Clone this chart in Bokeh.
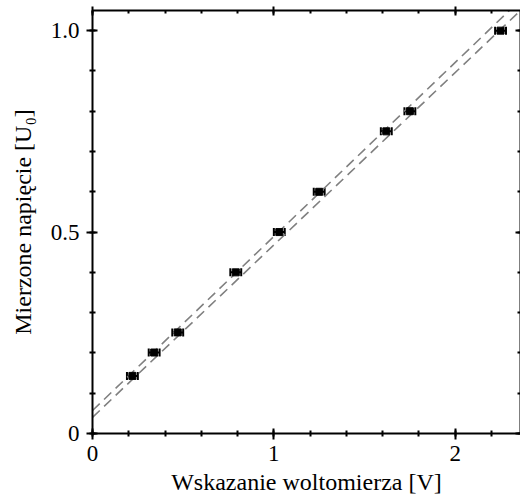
from bokeh.plotting import figure
from bokeh.models import (ColumnDataSource, FixedTicker, LinearAxis, Range1d, Whisker)
from bokeh.embed import file_html
from bokeh.resources import INLINE

# data
x_volt = [0.22, 0.34, 0.47, 0.79, 1.03, 1.25, 1.62, 1.75, 2.25]
y_u0 = [0.143, 0.201, 0.251, 0.400, 0.500, 0.600, 0.750, 0.800, 1.000]
x_err = [0.03, 0.03, 0.03, 0.03, 0.03, 0.03, 0.03, 0.03, 0.03]
fit_intercepts = [0.040, 0.057]
fit_slopes = [0.428, 0.432]
line_x = [0.0, 2.40]
x_ticks = [0, 1, 2]
y_ticks = [0, 0.5, 1.0]
y_tick_labels = {0: "0", 0.5: "0.5", 1: "1.0"}

FONT = "Liberation Serif"

p = figure(width=520, height=501, output_backend="svg", toolbar_location=None,
           x_range=Range1d(0, 2.36), y_range=Range1d(0, 1.05),
           min_border_left=92, min_border_bottom=68, min_border_top=10, min_border_right=0,
           x_axis_label="Wskazanie woltomierza [V]",
           y_axis_label="Mierzone napięcie [U₀]")
p.outline_line_color = None
p.grid.visible = False
p.background_fill_color = "white"
p.border_fill_color = "white"

# fit lines
for a, b in zip(fit_intercepts, fit_slopes):
    p.line(line_x, [a + b * xx for xx in line_x], line_color="#808080",
           line_width=1.6, line_dash="10 6")

src = ColumnDataSource(dict(x=x_volt, y=y_u0,
                            lo=[xv - e for xv, e in zip(x_volt, x_err)],
                            hi=[xv + e for xv, e in zip(x_volt, x_err)]))
w = Whisker(source=src, base="y", lower="lo", upper="hi", dimension="width",
            line_color="black", line_width=2)
w.upper_head.size = 8
w.lower_head.size = 8
w.upper_head.line_width = 2
w.lower_head.line_width = 2
p.add_layout(w)
p.scatter("x", "y", source=src, marker="square", size=7, fill_color="black",
          line_color="black")

xt = FixedTicker(ticks=x_ticks, minor_ticks=[i * 0.2 for i in range(13)])
yt = FixedTicker(ticks=y_ticks, minor_ticks=[i * 0.1 for i in range(11)])

def style(ax):
    ax.axis_line_width = 2
    ax.axis_line_color = "black"
    ax.major_tick_line_width = 2
    ax.minor_tick_line_width = 2
    ax.major_tick_in = 5
    ax.major_tick_out = 6
    ax.minor_tick_in = 3
    ax.minor_tick_out = 3
    ax.major_label_text_font = FONT
    ax.major_label_text_font_size = "23px"
    ax.major_label_text_color = "black"
    ax.axis_label_text_font = FONT
    ax.axis_label_text_font_size = "24px"
    ax.axis_label_text_font_style = "normal"
    ax.axis_label_text_color = "black"

p.xaxis.ticker = xt
p.yaxis.ticker = yt
p.yaxis.major_label_overrides = y_tick_labels
style(p.xaxis[0])
style(p.yaxis[0])
p.xaxis.major_label_standoff = 6
p.yaxis.major_label_standoff = 7
p.xaxis.axis_label_standoff = 5
p.yaxis.axis_label_standoff = 12

top = LinearAxis(ticker=xt)
style(top)
top.major_label_overrides = {t: "" for t in x_ticks}
top.major_label_text_font_size = "1px"
top.major_label_standoff = 0
top.major_tick_out = 4
top.minor_tick_out = 0
p.add_layout(top, "above")
right = LinearAxis(ticker=yt)
style(right)
right.major_label_overrides = {t: "" for t in y_ticks}
right.major_label_text_font_size = "1px"
right.major_label_standoff = 0
right.major_tick_out = 0
right.minor_tick_out = 0
p.add_layout(right, "right")

open("out.html", "w").write(file_html(p, INLINE))
